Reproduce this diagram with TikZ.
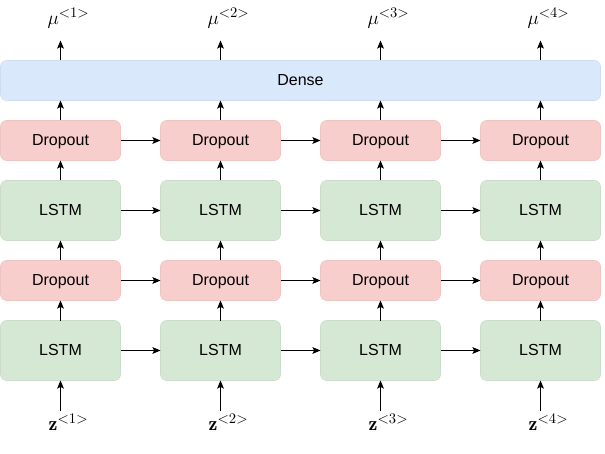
\documentclass[tikz,border=0pt]{standalone}
\usepackage{amsmath}
\usepackage{fontspec}
\setsansfont{Liberation Sans}
\usetikzlibrary{positioning,arrows.meta}
\definecolor{lstmfill}{HTML}{D5E8D4}
\definecolor{dropfill}{HTML}{F8CECC}
\definecolor{densefill}{HTML}{DAE8FC}

\begin{document}
\begin{tikzpicture}[x=0.75pt, y=0.75pt, node distance=15pt and 30pt, >={Stealth[length=6pt, width=5pt, inset=1.2pt]}, line width=0.75pt,
  block/.style={rectangle, rounded corners=4.5pt, outer sep=0pt, line width=0.4pt, minimum width=90pt, text height=0.716em, text depth=0pt, font=\sffamily\fontsize{12}{14}\selectfont},
  lstm/.style={block, fill=lstmfill, draw=lstmfill!95!black, minimum height=45pt},
  drop/.style={block, fill=dropfill, draw=dropfill!95!black, minimum height=30pt},
  dense/.style={block, fill=densefill, draw=densefill!95!black, minimum height=30pt, minimum width=450pt},
  toplbl/.style={inner xsep=1pt, inner ysep=9pt, xshift=6pt, font=\fontsize{15}{18}\selectfont},
  botlbl/.style={inner xsep=1pt, inner ysep=2pt, xshift=6pt, font=\fontsize{15}{18}\selectfont}]
  \useasboundingbox (0,0) rectangle (605,453);
  {
  \node[lstm] (lo1) at (60.5,102.5) {LSTM};
  \node[drop, above=of lo1] (dlo1) {Dropout};
  \node[lstm, above=of dlo1] (hi1) {LSTM};
  \node[drop, above=of hi1] (dhi1) {Dropout};
  \foreach \i [remember=\i as \j (initially 1)] in {2,3,4} {
    \node[lstm, right=of lo\j] (lo\i) {LSTM};
    \node[drop, right=of dlo\j] (dlo\i) {Dropout};
    \node[lstm, right=of hi\j] (hi\i) {LSTM};
    \node[drop, right=of dhi\j] (dhi\i) {Dropout};
    \draw[->] (lo\j) -- (lo\i);
    \draw[->] (dlo\j) -- (dlo\i);
    \draw[->] (hi\j) -- (hi\i);
    \draw[->] (dhi\j) -- (dhi\i);
  }
  \node[dense, anchor=south west] (dense) at ([yshift=15pt]dhi1.north west) {Dense};

  \foreach \i in {1,2,3,4} {
    \node[toplbl, anchor=south] (out\i) at ([yshift=15pt]dense.north -| dhi\i) {$\mu^{<\i>}$};
    \node[botlbl, anchor=north] (in\i) at ([yshift=-22.5pt]lo\i.south) {$\mathbf{z}^{<\i>}$};
    \draw[->] (lo\i |- in\i.north) -- (lo\i);
    \draw[->] (lo\i) -- (dlo\i);
    \draw[->] (dlo\i) -- (hi\i);
    \draw[->] (hi\i) -- (dhi\i);
    \draw[->] (dhi\i) -- (dhi\i |- dense.south);
    \draw[->] (dhi\i |- dense.north) -- (dhi\i |- out\i.south);
  }
  }
\end{tikzpicture}
\end{document}
